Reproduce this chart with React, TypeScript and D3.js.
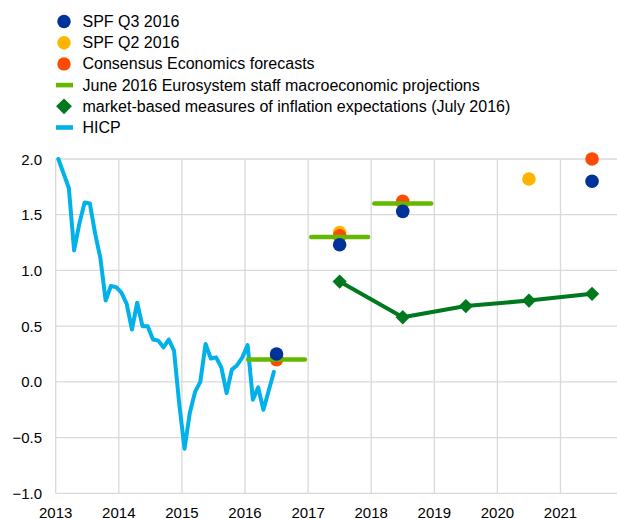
import React from "react";
import * as d3 from "d3";

const W = 617;
const H = 519;

const yTicks = [2.0, 1.5, 1.0, 0.5, 0.0, -0.5, -1.0];
const xTickYears = [2013, 2014, 2015, 2016, 2017, 2018, 2019, 2020, 2021];

// HICP monthly, Jan 2013 - Jun 2016
const hicp = [
  2.0, 1.87, 1.74, 1.18, 1.42, 1.61, 1.6, 1.33, 1.11, 0.73, 0.86, 0.85,
  0.8, 0.7, 0.47, 0.71, 0.5, 0.5, 0.38, 0.37, 0.31, 0.38, 0.28, -0.2,
  -0.6, -0.28, -0.09, 0.0, 0.34, 0.21, 0.22, 0.13, -0.1, 0.11, 0.15, 0.22,
  0.33, -0.16, -0.05, -0.25, -0.08, 0.09,
];

const projYears = [2016, 2017, 2018];
const projValues = [0.2, 1.3, 1.6];

const spfQ3Years = [2016, 2017, 2018, 2021];
const spfQ3Values = [0.25, 1.23, 1.53, 1.8];

const spfQ2Years = [2016, 2017, 2018, 2020];
const spfQ2Values = [0.22, 1.34, 1.6, 1.82];

const consYears = [2016, 2017, 2018, 2021];
const consValues = [0.2, 1.31, 1.62, 2.0];

const mktYears = [2017, 2018, 2019, 2020, 2021];
const mktValues = [0.9, 0.58, 0.68, 0.73, 0.79];

const C = {
  blue: "#003299",
  yellow: "#FFB400",
  orange: "#FF4B00",
  green: "#65B800",
  dkgreen: "#00781E",
  hicp: "#00B1EA",
  grid: "#d9d9d9",
};

const legendItems = [
  { label: "SPF Q3 2016", kind: "circle", color: C.blue },
  { label: "SPF Q2 2016", kind: "circle", color: C.yellow },
  { label: "Consensus Economics forecasts", kind: "circle", color: C.orange },
  { label: "June 2016 Eurosystem staff macroeconomic projections", kind: "line", color: C.green },
  { label: "market-based measures of inflation expectations (July 2016)", kind: "diamond", color: C.dkgreen },
  { label: "HICP", kind: "line", color: C.hicp },
];

export default function App() {
  const x = d3.scaleLinear().domain([2013, 2022]).range([55.7, 55.7 + 9 * 63.1]);
  const y = d3.scaleLinear().domain([-1, 2]).range([493.3, 159]);
  const font = "'Liberation Sans', Arial, sans-serif";

  const hicpLine = d3
    .line<number>()
    .x((_, i) => x(2013 + (i + 0.5) / 12))
    .y((d) => y(d));

  const mktLine = d3
    .line<number>()
    .x((_, i) => x(mktYears[i] + 0.5))
    .y((d) => y(d));

  const diamond = d3.symbol().type(d3.symbolDiamond2).size(130);
  const legendDiamond = d3.symbol().type(d3.symbolDiamond2).size(160);
  const r = 6.8;

  return (
    <svg
      width={W}
      height={H}
      style={{ position: "absolute", left: 0, top: 0, background: "#fff" }}
      fontFamily={font}
    >
      {/* grid */}
      {yTicks.map((t) => (
        <line key={"gy" + t} x1={x(2013)} x2={W} y1={y(t)} y2={y(t)} stroke={C.grid} strokeWidth={1.3} />
      ))}
      {xTickYears.map((t) => (
        <line key={"gx" + t} x1={x(t)} x2={x(t)} y1={y(2)} y2={y(-1)} stroke={C.grid} strokeWidth={1.3} />
      ))}
      {/* y labels */}
      {yTicks.map((t) => (
        <text key={"ly" + t} x={42} y={y(t)} textAnchor="end" dominantBaseline="central" fontSize={15} fill="#000">
          {d3.format(".1f")(t)}
        </text>
      ))}
      {xTickYears.map((t) => (
        <text key={"lx" + t} x={x(t)} y={512} textAnchor="middle" dominantBaseline="central" fontSize={15} fill="#000">
          {t}
        </text>
      ))}

      {/* HICP */}
      <path d={hicpLine(hicp) || ""} fill="none" stroke={C.hicp} strokeWidth={4} strokeLinejoin="round" strokeLinecap="round" />

      {/* SPF Q2 */}
      {spfQ2Years.map((yr, i) => (
        <circle key={"q2" + yr} cx={x(yr + 0.5)} cy={y(spfQ2Values[i])} r={r} fill={C.yellow} />
      ))}
      {/* Consensus */}
      {consYears.map((yr, i) => (
        <circle key={"ce" + yr} cx={x(yr + 0.5)} cy={y(consValues[i])} r={r} fill={C.orange} />
      ))}
      {/* projections */}
      {projYears.map((yr, i) => (
        <line
          key={"pj" + yr}
          x1={x(yr + 0.05)}
          x2={x(yr + 0.95)}
          y1={y(projValues[i])}
          y2={y(projValues[i])}
          stroke={C.green}
          strokeWidth={4.5}
          strokeLinecap="round"
        />
      ))}
      {/* SPF Q3 */}
      {spfQ3Years.map((yr, i) => (
        <circle key={"q3" + yr} cx={x(yr + 0.5)} cy={y(spfQ3Values[i])} r={r} fill={C.blue} />
      ))}
      {/* market-based */}
      <path d={mktLine(mktValues) || ""} fill="none" stroke={C.dkgreen} strokeWidth={4} strokeLinejoin="round" />
      {mktYears.map((yr, i) => (
        <path
          key={"mk" + yr}
          d={diamond() || ""}
          transform={`translate(${x(yr + 0.5)},${y(mktValues[i])})`}
          fill={C.dkgreen}
        />
      ))}

      {/* legend */}
      {legendItems.map((it, i) => {
        const cy = 21.5 + i * 21.2;
        return (
          <g key={"lg" + i}>
            {it.kind === "circle" && <circle cx={64} cy={cy} r={6.7} fill={it.color} />}
            {it.kind === "line" && <rect x={56} y={cy - 2.3} width={17} height={4.6} fill={it.color} />}
            {it.kind === "diamond" && (
              <path d={legendDiamond() || ""} transform={`translate(64,${cy})`} fill={it.color} />
            )}
            <text x={82.5} y={cy} dominantBaseline="central" fontSize={16} fill="#000">
              {it.label}
            </text>
          </g>
        );
      })}
    </svg>
  );
}
